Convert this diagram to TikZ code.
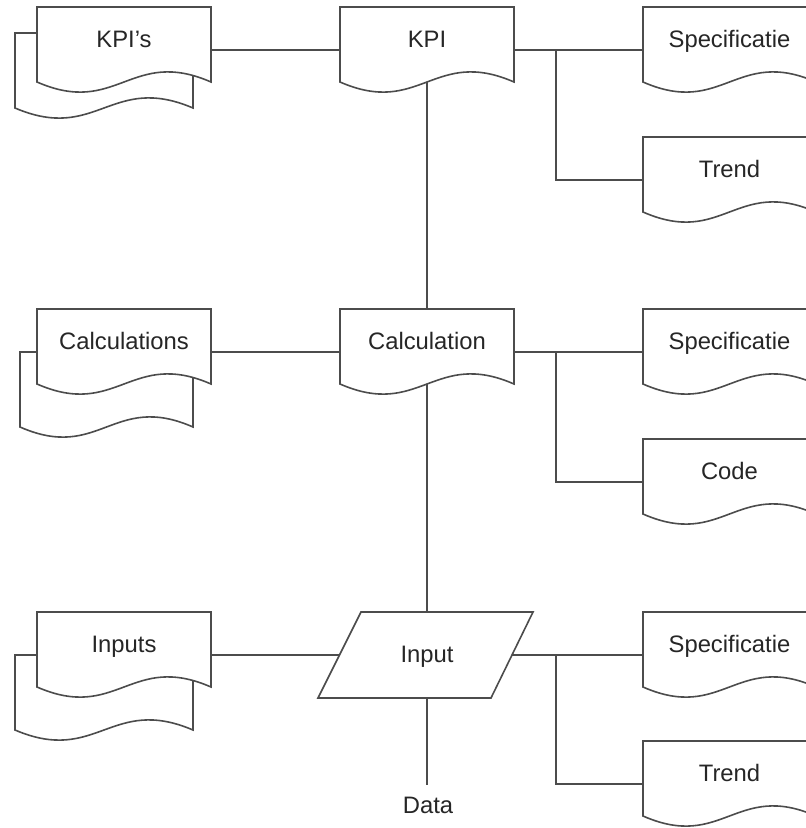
\documentclass[tikz,border=0pt]{standalone}
\usepackage{fontspec}
\setmainfont{Liberation Sans}
\usetikzlibrary{calc}
\tikzset{
  ln/.style={draw=black!70, line width=1.6pt},
  docshape/.style={ln, fill=white, line join=miter},
  lbl/.style={text=black!85, anchor=base, inner sep=0pt, font=\fontsize{23.8}{28}\selectfont},
  frame/.style={draw=none, inner sep=0pt, outer sep=0pt, anchor=north west},
}
% document outline: x, top, width
\newcommand\docoutline[3]{%
  \draw[docshape] (#1,#2+75) -- (#1,#2) -- (#1+#3,#2) -- (#1+#3,#2+75)
    .. controls (#1+0.54*#3,#2+40) and (#1+0.46*#3,#2+110) .. (#1,#2+75) -- cycle;}
% named document: name, x, top, width, text
\newcommand\mydoc[5]{%
  \docoutline{#2}{#3}{#4}
  \node[frame, minimum width=#4pt, minimum height=86pt] (#1) at (#2,#3) {};
  \node[lbl] (#1-t) at (#2+#4/2,#3+40) {#5};
  \coordinate (#1-b) at (#2+#4/2,#3+75);}
\begin{document}
\begin{tikzpicture}[x=1pt,y=-1pt]
\useasboundingbox (0,0) rectangle (806,828);
\clip (0,0) rectangle (806,828);

% ---- top row ----
\docoutline{15}{33}{178}
\mydoc{kpis}{37}{7}{174}{KPI’s}
\mydoc{kpi}{340}{7}{174}{KPI}
\mydoc{spec1}{643}{7}{173}{Specificatie}
\mydoc{trend1}{643}{137}{173}{Trend}

% ---- middle row ----
\docoutline{20}{352}{173}
\mydoc{calcs}{37}{309}{174}{Calculations}
\mydoc{calc}{340}{309}{174}{Calculation}
\mydoc{spec2}{643}{309}{173}{Specificatie}
\mydoc{code}{643}{439}{173}{Code}

% ---- bottom row ----
\docoutline{15}{655}{178}
\mydoc{inputs}{37}{612}{174}{Inputs}
\draw[docshape] (318,698) -- (361,612) -- (533,612) -- (491,698) -- cycle;
\node[lbl] (input) at (427,662) {Input};
\coordinate (input-n) at (427,612);
\coordinate (input-s) at (427,698);
\coordinate (input-w) at (339.5,655);
\coordinate (input-e) at (512,655);
\mydoc{spec3}{643}{612}{173}{Specificatie}
\mydoc{trend3}{643}{741}{173}{Trend}
\node[lbl] (data) at (428,813) {Data};
\coordinate (data-top) at (427,785);

% branch points
\coordinate (br1) at (556,50);
\coordinate (br2) at (556,352);
\coordinate (br3) at (556,655);

% ---- connectors ----
\draw[ln] (kpis.east) -- (kpi.west);
\draw[ln] (kpi.east) -- (spec1.west);
\draw[ln] (br1) |- (trend1.west);
\draw[ln] (kpi-b) -- (calc.north);

\draw[ln] (calcs.east) -- (calc.west);
\draw[ln] (calc.east) -- (spec2.west);
\draw[ln] (br2) |- (code.west);
\draw[ln] (calc-b) -- (input-n);

\draw[ln] (inputs.east) -- (input-w);
\draw[ln] (input-e) -- (spec3.west);
\draw[ln] (br3) |- (trend3.west);
\draw[ln] (input-s) -- (data-top);
\end{tikzpicture}
\end{document}
